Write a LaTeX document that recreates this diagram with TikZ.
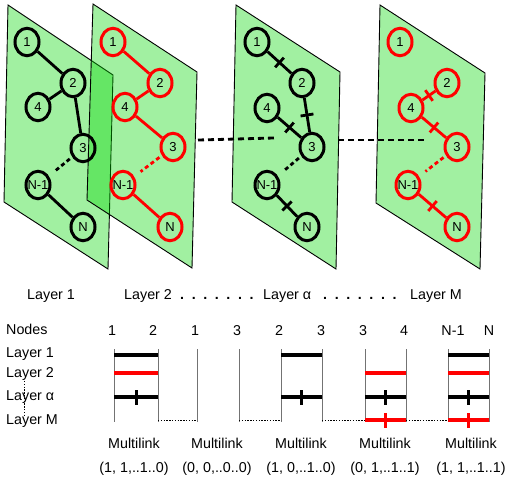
\documentclass[tikz,border=0pt]{standalone}
\usepackage{fontspec}
\setmainfont{Liberation Sans}
\usetikzlibrary{shapes.geometric,decorations.markings}
\definecolor{planeG}{RGB}{0,215,0}
\definecolor{vgray}{RGB}{115,115,115}
\newcommand{\dotsrow}{\textbf{.}\hskip 7.6pt\textbf{.}\hskip 7.6pt\textbf{.}\hskip 7.6pt\textbf{.}\hskip 7.6pt\textbf{.}\hskip 7.6pt\textbf{.}\hskip 7.6pt\textbf{.}}
\begin{document}
\begin{tikzpicture}[x=1pt,y=-1pt,
  plane/.style={draw=black, line width=0.9pt, fill=planeG, fill opacity=0.37},
  nd/.style={ellipse, draw=black, line width=3pt, minimum width=24pt, minimum height=27.5pt, inner sep=0pt, font=\fontsize{13}{15}\selectfont},
  rnd/.style={nd, draw=red},
  wide/.style={inner xsep=-4pt},
  ln/.style={line width=2.8pt, draw=black},
  rln/.style={line width=2.8pt, draw=red},
  dln/.style={line width=2.8pt, dash pattern=on 4pt off 3pt, shorten <=3pt, shorten >=8pt},
  tk/.style={postaction={decorate}, decoration={markings, mark=at position 0.5 with {\draw[line width=2.8pt, draw=#1, solid] (0,-6.5pt) -- (0,6.5pt);}}},
  tk/.default=black,
  ttk/.style={postaction={decorate}, decoration={markings, mark=at position 0.5 with {\draw[line width=3pt, draw=#1] (0,-7.5pt) -- (0,7.5pt);}}},
  ttk/.default=black,
  pdash/.style={line width=2.8pt, dash pattern=on 6pt off 4pt},
  txt/.style={font=\fontsize{14.3}{16}\selectfont, inner sep=0pt},
  vl/.style={draw=vgray, line width=1pt},
  hl/.style={line width=3.3pt},
  dotl/.style={line width=1pt, dash pattern=on 1.4pt off 1.4pt}
]
\fill[white] (0,0) rectangle (510,477);
\useasboundingbox (0,0) rectangle (510,477);

% planes
\draw[plane] (8,5) -- (113,75) -- (108,269) -- (4,202) -- cycle;
\draw[plane] (93,4) -- (197,72) -- (192,268) -- (87,200) -- cycle;
\draw[plane] (236,5) -- (340,72) -- (336,269) -- (232,202) -- cycle;
\draw[plane] (380,5) -- (485,73) -- (480,269) -- (376,203) -- cycle;

% plane 1
\node[nd] (a1) at (27,42) {1};
\node[nd] (a2) at (73,83) {2};
\node[nd] (a4) at (38,107) {4};
\node[nd] (a3) at (83,148) {3};
\node[nd,wide] (aN1) at (38,185) {N-1};
\node[nd] (aN) at (83,227) {N};
\draw[ln] (a1) -- (a2);
\draw[ln] (a2) -- (a4);
\draw[ln] (a2) -- (a3);
\draw[dln] (a3) -- (aN1);
\draw[ln] (aN1) -- (aN);

% plane 2
\node[rnd] (b1) at (113,42) {1};
\node[rnd] (b2) at (160,83) {2};
\node[rnd] (b4) at (125,107) {4};
\node[rnd] (b3) at (173,147) {3};
\node[rnd,wide] (bN1) at (123,185) {N-1};
\node[rnd] (bN) at (170,227) {N};
\draw[rln] (b1) -- (b2);
\draw[rln] (b2) -- (b4);
\draw[rln] (b4) -- (b3);
\draw[dln,draw=red] (b3) -- (bN1);
\draw[rln] (bN1) -- (bN);

% plane 3
\node[nd] (c1) at (257,42) {1};
\node[nd] (c2) at (302,83) {2};
\node[nd] (c4) at (267,108) {4};
\node[nd] (c3) at (312,147) {3};
\node[nd,wide] (cN1) at (267,185) {N-1};
\node[nd] (cN) at (307,227) {N};
\draw[ln,tk] (c1) -- (c2);
\draw[ln,tk] (c2) -- (c3);
\draw[ln,tk] (c4) -- (c3);
\draw[dln] (c3) -- (cN1);
\draw[ln,tk] (cN1) -- (cN);

% plane 4
\node[rnd] (d1) at (400,42) {1};
\node[rnd] (d2) at (447,83) {2};
\node[rnd] (d4) at (411,108) {4};
\node[rnd] (d3) at (457,147) {3};
\node[rnd,wide] (dN1) at (408,185) {N-1};
\node[rnd] (dN) at (457,227) {N};
\draw[rln,tk=red] (d4) -- (d2);
\draw[rln,tk=red] (d4) -- (d3);
\draw[dln,draw=red] (d3) -- (dN1);
\draw[rln,tk=red] (dN1) -- (dN);

% inter-plane dashed links
\coordinate (p1s) at (198,140);
\coordinate (p1e) at (274,138);
\coordinate (p2s) at (338,140);
\coordinate (p2e) at (424,140);
\draw[pdash] (p1s) -- (p1e);
\draw[pdash] (p2s) -- (p2e);

% layer labels
\node[txt,anchor=base west] (lab1) at (27,299) {Layer 1};
\node[txt,anchor=base west] (lab2) at (124,299) {Layer 2};
\node[txt,anchor=base west] (dots1) at (180,299) {\dotsrow};
\node[txt,anchor=base west] (laba) at (263,299) {Layer α};
\node[txt,anchor=base west] (dots2) at (323,299) {\dotsrow};
\node[txt,anchor=base west] (labM) at (410,299) {Layer M};

% table row labels
\node[txt,anchor=base west] (rn) at (6,334) {Nodes};
\node[txt,anchor=base west] (r1) at (6,357) {Layer 1};
\node[txt,anchor=base west] (r2) at (6,377) {Layer 2};
\node[txt,anchor=base west] (ra) at (6,400) {Layer α};
\node[txt,anchor=base west] (rM) at (6,424) {Layer M};
\coordinate (vdt) at (24,381);
\coordinate (vdb) at (24,416);
\draw[dotl] (vdt) -- (vdb);

% column labels
\foreach \x/\t [count=\i] in {112/1,153/2,195/1,237/3,279/2,321/3,363/3,404/4,453/N-1,489/N}
  \node[txt,anchor=base] (col\i) at (\x,335) {\t};

% boxes
\foreach \n/\l/\r in {1/114/158,2/197/239,3/281/322,4/365/406,5/448/489} {
  \coordinate (L\n t) at (\l,349);
  \coordinate (L\n b) at (\l,422);
  \coordinate (R\n t) at (\r,349);
  \coordinate (R\n b) at (\r,422);
  \draw[vl] (L\n t) -- (L\n b);
  \draw[vl] (R\n t) -- (R\n b);
  \foreach \rr/\y in {a/355,b/373,c/397,d/420} {
    \coordinate (L\n\rr) at (\l,\y);
    \coordinate (R\n\rr) at (\r,\y);
  }
}
% box 1 (1,2)
\draw[hl] (L1a) -- (R1a);
\draw[hl,red] (L1b) -- (R1b);
\draw[hl,ttk] (L1c) -- (R1c);
% box 3 (2,3)
\draw[hl] (L3a) -- (R3a);
\draw[hl,ttk] (L3c) -- (R3c);
% box 4 (3,4)
\draw[hl,red] (L4b) -- (R4b);
\draw[hl,ttk] (L4c) -- (R4c);
\draw[hl,red,ttk=red] (L4d) -- (R4d);
% box 5 (N-1,N)
\draw[hl] (L5a) -- (R5a);
\draw[hl,red] (L5b) -- (R5b);
\draw[hl,ttk] (L5c) -- (R5c);
\draw[hl,red,ttk=red] (L5d) -- (R5d);
% dotted links between boxes
\draw[dotl] (R1d) -- (L2d);
\draw[dotl] (R2d) -- (L3d);
\draw[dotl] (R3d) -- (L4d);
\draw[dotl] (R4d) -- (L5d);

% multilink labels
\foreach \x/\t [count=\i] in {134/{(1, 1,..1..0)},217/{(0, 0,..0..0)},301/{(1, 0,..1..0)},385/{(0, 1,..1..1)},471/{(1, 1,..1..1)}} {
  \node[txt,anchor=base] (ml\i) at (\x,448) {Multilink};
  \node[txt,anchor=base] (tu\i) at (\x,472) {\t};
}
\end{tikzpicture}
\end{document}
